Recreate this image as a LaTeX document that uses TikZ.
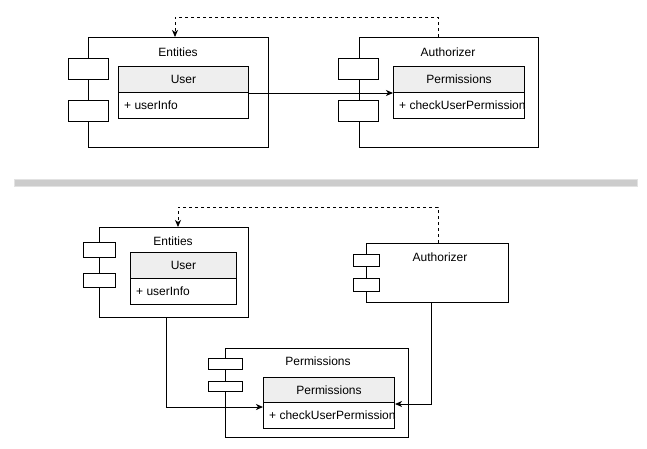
\documentclass[tikz,border=0pt]{standalone}
\usepackage{fontspec}
\setmainfont{Liberation Sans}
\usetikzlibrary{arrows.meta}
\definecolor{headgray}{HTML}{EEEEEE}
\definecolor{bargray}{HTML}{CCCCCC}
\definecolor{barline}{HTML}{E2E2E2}
\tikzset{
  comp/.style={draw,line width=1pt,fill=white,inner sep=0pt,anchor=north west},
  port/.style={draw,line width=1pt,fill=white,inner sep=0pt,anchor=north west},
  chead/.style={draw,line width=1pt,fill=headgray,inner sep=0pt,anchor=north west},
  cbody/.style={draw,line width=1pt,fill=white,inner sep=0pt,anchor=north west},
  txt/.style={inner sep=0pt,font=\fontsize{12}{14}\selectfont,text height=8.6pt,text depth=0pt},
  arr/.style={line width=1pt,-{Stealth[length=7pt,width=6pt,inset=2pt]}},
  dep/.style={line width=1pt,dash pattern=on 3pt off 3pt,-{Stealth[length=7pt,width=6pt,inset=2pt]}}
}
\begin{document}
\begin{tikzpicture}[x=1pt,y=-1pt]
\path[use as bounding box] (0,0) rectangle (647,448);
%% upper diagram
\node[comp,minimum width=180pt,minimum height=110pt] (ent1) at (88,37) {};
\node[port,minimum width=40pt,minimum height=21pt] (ent1p1) at (68,58) {};
\node[port,minimum width=40pt,minimum height=21pt] (ent1p2) at (68,100) {};
\node[txt] (ent1lbl) at (178,52) {Entities};
\node[chead,minimum width=130pt,minimum height=26pt] (usr1h) at (118,66) {};
\node[cbody,minimum width=130pt,minimum height=26pt] (usr1b) at (118,92) {};
\node[txt] (usr1lbl) at (usr1h.center) {User};
\node[txt,anchor=west] (usr1att) at (124,105) {+ userInfo};

\node[comp,minimum width=179pt,minimum height=110pt] (aut1) at (359,37) {};
\node[port,minimum width=40pt,minimum height=21pt] (aut1p1) at (338,58) {};
\node[port,minimum width=40pt,minimum height=21pt] (aut1p2) at (338,100) {};
\node[txt] (aut1lbl) at (448,52) {Authorizer};
\node[chead,minimum width=131pt,minimum height=26pt] (prm1h) at (393,66) {};
\node[cbody,minimum width=131pt,minimum height=26pt] (prm1b) at (393,92) {};
\node[txt] (prm1lbl) at (prm1h.center) {Permissions};
\begin{scope}
\clip (prm1b.north west) rectangle (prm1b.south east);
\node[txt,anchor=west] (prm1op) at (399,105) {+ checkUserPermissions};
\end{scope}

\draw[arr] (usr1h.south east) -- (prm1h.south west);
\draw[dep] ([xshift=79pt]aut1.north west) -- ++(0,-20) -| ([xshift=87pt]ent1.north west);

%% separator
\draw[barline,fill=bargray,line width=.5pt] (14,179) rectangle (637,186);

%% lower diagram
\node[comp,minimum width=149pt,minimum height=90pt] (ent2) at (99,227) {};
\node[port,minimum width=32pt,minimum height=15pt] (ent2p1) at (83,242) {};
\node[port,minimum width=32pt,minimum height=14pt] (ent2p2) at (83,273) {};
\node[txt] (ent2lbl) at (173,241) {Entities};
\node[chead,minimum width=106pt,minimum height=26pt] (usr2h) at (130,252) {};
\node[cbody,minimum width=106pt,minimum height=26pt] (usr2b) at (130,278) {};
\node[txt] (usr2lbl) at (usr2h.center) {User};
\node[txt,anchor=west] (usr2att) at (136,291) {+ userInfo};

\node[comp,minimum width=142pt,minimum height=59pt] (aut2) at (366,243) {};
\node[port,minimum width=26pt,minimum height=12pt] (aut2p1) at (353,254) {};
\node[port,minimum width=26pt,minimum height=13pt] (aut2p2) at (353,278) {};
\node[txt] (aut2lbl) at (440,257) {Authorizer};

\node[comp,minimum width=183pt,minimum height=89pt] (prm2) at (225,348) {};
\node[port,minimum width=34pt,minimum height=11pt] (prm2p1) at (208,358) {};
\node[port,minimum width=34pt,minimum height=10pt] (prm2p2) at (208,381) {};
\node[txt] (prm2lbl) at (318,361) {Permissions};
\node[chead,minimum width=131pt,minimum height=25pt] (prm3h) at (263,377) {};
\node[cbody,minimum width=131pt,minimum height=26pt] (prm3b) at (263,402) {};
\node[txt] (prm3lbl) at (prm3h.center) {Permissions};
\begin{scope}
\clip (prm3b.north west) rectangle (prm3b.south east);
\node[txt,anchor=west] (prm3op) at (269,415) {+ checkUserPermissions};
\end{scope}

\draw[dep] ([xshift=72pt]aut2.north west) -- ++(0,-36) -| ([xshift=79pt]ent2.north west);
\draw[arr] ([xshift=67pt]ent2.south west) |- ([yshift=-4pt]prm3h.south west);
\draw[arr] ([xshift=65pt]aut2.south west) |- ([yshift=-1pt]prm3h.south east);
\end{tikzpicture}
\end{document}
